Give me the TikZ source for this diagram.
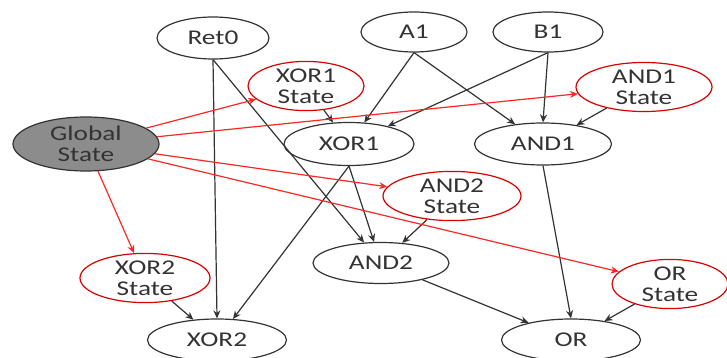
\documentclass[tikz,border=0pt]{standalone}
\usepackage{fontspec}
\setmainfont{Carlito}[FakeStretch=1.3]
\usetikzlibrary{shapes.geometric,arrows.meta}

\begin{document}
\begin{tikzpicture}[
  x=0.5pt, y=-0.5pt,
  font=\fontsize{10.5}{10.5}\selectfont,
  gate/.style={ellipse, draw=black!80, line width=0.6pt, text=black!80, inner sep=0pt, align=center},
  st/.style={gate, draw=red!85!black},
  wire/.style={-{Stealth[length=4pt,width=3.5pt]}, draw=black!80, line width=0.6pt},
  sw/.style={wire, draw=red!85},
  ]
\useasboundingbox (0,0) rectangle (727,358);
% inputs and gates
\node[gate, minimum width=56pt, minimum height=21pt] (ret0) at (213,38) {Ret0};
\node[gate, minimum width=53pt, minimum height=20pt] (a1) at (414,32) {A1};
\node[gate, minimum width=55pt, minimum height=20pt] (b1) at (548,32) {B1};
\node[gate, minimum width=65pt, minimum height=21.5pt] (xor1) at (349,144) {XOR1};
\node[gate, minimum width=68.5pt, minimum height=21pt] (and1) at (543,144) {AND1};
\node[gate, minimum width=68pt, minimum height=20.5pt] (and2) at (381,263) {AND2};
\node[gate, minimum width=69.5pt, minimum height=21pt] (xor2) at (217,340) {XOR2};
\node[gate, minimum width=69.5pt, minimum height=21pt] (or) at (571,340) {OR};
% states
\node[gate, fill=black!45, minimum width=73pt, minimum height=27pt] (glob) at (86,144) {Global\\State};
\node[st, minimum width=58pt, minimum height=23.5pt] (xor1st) at (306,86) {XOR1\\State};
\node[st, minimum width=68pt, minimum height=23.5pt] (and1st) at (644,87) {AND1\\State};
\node[st, minimum width=69pt, minimum height=21pt] (and2st) at (452,196) {AND2\\State};
\node[st, minimum width=65pt, minimum height=23pt] (xor2st) at (145,278) {XOR2\\State};
\node[st, minimum width=58pt, minimum height=24pt] (orst) at (670,284) {OR\\State};
% signal edges
\draw[wire] (ret0.south) -- (xor2.north);
\draw[wire] (ret0.south) -- (and2);
\draw[wire] (a1.south) -- (xor1);
\draw[wire] (a1.south) -- (and1);
\draw[wire] (b1.south) -- (xor1);
\draw[wire] (b1.south) -- (and1.north);
\draw[wire] (xor1.south) -- (and2);
\draw[wire] (xor1.south) -- (xor2);
\draw[wire] (and1.south) -- (or.north);
\draw[wire] (and2) -- (or);
\foreach \s/\g in {xor1st/xor1, and1st/and1, and2st/and2, xor2st/xor2, orst/or}
  \draw[wire] (\s) -- (\g);
% global state edges
\foreach \s in {xor1st, and1st, and2st, orst, xor2st}
  \draw[sw] (glob) -- (\s);
\end{tikzpicture}
\end{document}
